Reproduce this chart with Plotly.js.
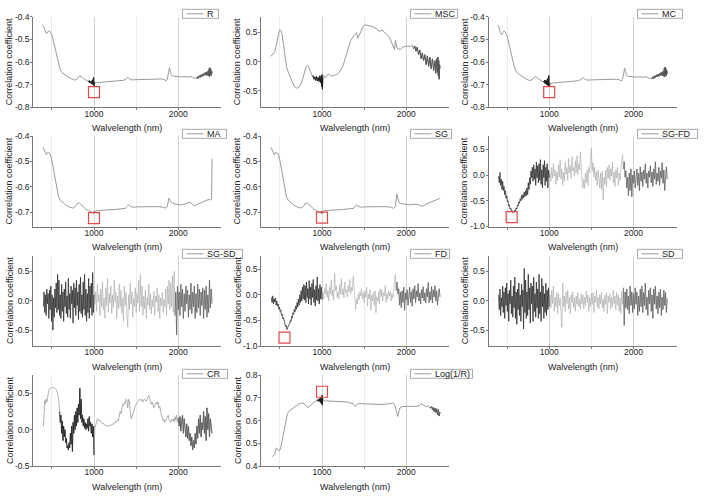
<!DOCTYPE html>
<html><head><meta charset="utf-8">
<script src="https://cdn.plot.ly/plotly-3.0.1.min.js"></script>
<style>html,body{margin:0;padding:0;background:#fff}#chart{width:706px;height:497px}</style>
</head><body><div id="chart"></div>
<script>
// ---------------- DATA ----------------
const PANEL_NAMES = ['R','MSC','MC','MA','SG','SG-FD','SG-SD','FD','SD','CR','Log(1/R)'];
const X_TITLE = 'Walvelength (nm)';
const Y_TITLE = 'Correlation coefficient';
const X_TICKS = [1000, 2000];
const X_MINOR = [500, 1500];
const TICKS_A = [-0.8,-0.7,-0.6,-0.5,-0.4];
const TICKS_B = [-0.7,-0.6,-0.5,-0.4];
const TICKS_SYM = [-0.5,0,0.5];
const TICKS_FD = [-1,-0.5,0,0.5];
const TICKS_CR = [-0.5,0,0.5];
const TICKS_LOG = [0.4,0.5,0.6,0.7,0.8];

const SMOOTH_WL = [390,405,420,435,450,465,480,500,520,540,
560,580,600,620,650,690,730,770,800,830,
850,870,890,910,930,940,945,950,955,960,
965,970,975,980,985,990,995,1000,1003,1006,
1010,1030,1060,1100,1150,1200,1250,1300,1350,1380,
1400,1420,1450,1500,1550,1600,1650,1700,1750,1800,
1830,1855,1870,1885,1895,1905,1915,1930,1960,2000,
2040,2080,2120,2150,2170,2190,2210,2220,2230,2240,
2250,2260,2270,2280,2290,2300,2310,2320,2330,2340,
2350,2360,2365,2370,2375,2380,2385,2390,2395,2400];
const R_VAL = [-0.435,-0.445,-0.462,-0.475,-0.468,-0.462,-0.466,-0.480,-0.510,-0.545,
-0.580,-0.610,-0.635,-0.647,-0.655,-0.665,-0.674,-0.680,-0.676,-0.662,
-0.664,-0.672,-0.677,-0.681,-0.684,-0.688,-0.682,-0.692,-0.684,-0.694,
-0.686,-0.696,-0.683,-0.698,-0.678,-0.700,-0.668,-0.705,-0.675,-0.695,
-0.690,-0.692,-0.690,-0.689,-0.688,-0.687,-0.686,-0.684,-0.681,-0.676,
-0.667,-0.675,-0.679,-0.678,-0.677,-0.676,-0.675,-0.676,-0.674,-0.675,
-0.677,-0.683,-0.675,-0.635,-0.625,-0.640,-0.655,-0.662,-0.664,-0.665,
-0.666,-0.664,-0.667,-0.664,-0.668,-0.672,-0.669,-0.674,-0.664,-0.672,
-0.660,-0.668,-0.656,-0.665,-0.652,-0.662,-0.648,-0.658,-0.644,-0.660,
-0.640,-0.662,-0.630,-0.665,-0.625,-0.655,-0.632,-0.660,-0.640,-0.650];
const MC_VAL = [-0.437,-0.447,-0.470,-0.480,-0.470,-0.463,-0.468,-0.485,-0.515,-0.550,
-0.585,-0.612,-0.636,-0.648,-0.656,-0.667,-0.676,-0.682,-0.677,-0.664,
-0.666,-0.674,-0.679,-0.683,-0.686,-0.690,-0.680,-0.694,-0.682,-0.696,
-0.684,-0.700,-0.678,-0.702,-0.672,-0.706,-0.660,-0.710,-0.668,-0.700,
-0.694,-0.693,-0.691,-0.690,-0.689,-0.688,-0.687,-0.685,-0.682,-0.677,
-0.668,-0.676,-0.680,-0.679,-0.678,-0.677,-0.676,-0.677,-0.675,-0.676,
-0.678,-0.684,-0.676,-0.636,-0.627,-0.642,-0.656,-0.663,-0.665,-0.666,
-0.667,-0.665,-0.668,-0.665,-0.669,-0.673,-0.670,-0.675,-0.665,-0.673,
-0.661,-0.669,-0.657,-0.666,-0.653,-0.663,-0.649,-0.659,-0.645,-0.661,
-0.641,-0.663,-0.628,-0.666,-0.622,-0.656,-0.630,-0.662,-0.638,-0.652];

const MA_WL = [395,415,435,450,465,480,500,520,540,560,
580,600,630,670,710,750,780,800,825,850,
875,900,930,960,985,995,1000,1005,1020,1070,
1150,1230,1300,1370,1395,1410,1430,1460,1520,1600,
1670,1750,1820,1850,1870,1888,1900,1915,1950,2000,
2030,2080,2130,2160,2190,2230,2270,2310,2350,2385,
2395,2400];
const MA_VAL = [-0.444,-0.458,-0.474,-0.464,-0.466,-0.470,-0.495,-0.530,-0.565,-0.605,
-0.640,-0.652,-0.662,-0.672,-0.679,-0.683,-0.676,-0.666,-0.662,-0.670,
-0.680,-0.686,-0.692,-0.697,-0.700,-0.702,-0.697,-0.700,-0.694,-0.692,
-0.690,-0.689,-0.687,-0.684,-0.676,-0.670,-0.676,-0.679,-0.678,-0.677,
-0.676,-0.677,-0.679,-0.683,-0.676,-0.644,-0.652,-0.660,-0.666,-0.668,
-0.670,-0.667,-0.660,-0.665,-0.674,-0.668,-0.663,-0.658,-0.650,-0.650,
-0.648,-0.490];
const SG_VAL = [-0.444,-0.458,-0.474,-0.464,-0.466,-0.470,-0.495,-0.530,-0.565,-0.605,
-0.640,-0.652,-0.662,-0.672,-0.679,-0.683,-0.676,-0.665,-0.662,-0.670,
-0.680,-0.686,-0.692,-0.697,-0.699,-0.703,-0.696,-0.699,-0.693,-0.691,
-0.690,-0.689,-0.687,-0.684,-0.676,-0.670,-0.676,-0.679,-0.678,-0.677,
-0.676,-0.677,-0.679,-0.684,-0.676,-0.628,-0.645,-0.662,-0.666,-0.668,
-0.670,-0.668,-0.668,-0.672,-0.676,-0.668,-0.663,-0.657,-0.650,-0.646,
-0.645,-0.642];

const MSC_WL = [395,410,425,440,455,465,475,485,495,505,
515,525,535,545,555,565,580,600,625,650,
670,690,710,730,750,770,790,810,825,840,
855,870,885,895,905,915,925,935,945,955,
965,975,985,990,995,1000,1005,1010,1020,1040,
1060,1080,1100,1120,1140,1160,1180,1200,1220,1240,
1260,1280,1300,1320,1340,1360,1380,1400,1410,1425,
1440,1455,1470,1490,1510,1530,1550,1575,1600,1625,
1650,1675,1700,1720,1740,1760,1780,1800,1815,1830,
1845,1860,1872,1880,1890,1905,1930,1960,1990,2020,
2050,2070,2085,2100,2115,2130,2145,2160,2175,2190,
2205,2220,2235,2250,2265,2280,2295,2310,2325,2340,
2350,2360,2370,2375,2380,2385,2390,2395,2400];
const MSC_VAL = [0.09,0.13,0.15,0.17,0.28,0.37,0.45,0.51,0.54,0.545,
0.53,0.48,0.39,0.29,0.16,0.05,-0.09,-0.18,-0.27,-0.36,
-0.42,-0.45,-0.45,-0.43,-0.38,-0.30,-0.18,-0.09,-0.06,-0.08,
-0.14,-0.20,-0.25,-0.24,-0.30,-0.26,-0.32,-0.25,-0.33,-0.27,
-0.34,-0.24,-0.36,-0.26,-0.42,-0.22,-0.47,-0.27,-0.24,-0.28,
-0.23,-0.21,-0.24,-0.25,-0.23,-0.23,-0.21,-0.19,-0.15,-0.10,
-0.02,0.09,0.19,0.27,0.36,0.41,0.45,0.48,0.50,0.40,
0.45,0.49,0.57,0.61,0.63,0.62,0.61,0.61,0.60,0.58,
0.56,0.52,0.53,0.54,0.50,0.48,0.45,0.42,0.36,0.30,
0.24,0.21,0.37,0.30,0.23,0.22,0.21,0.25,0.26,0.27,
0.26,0.28,0.22,0.27,0.18,0.25,0.12,0.20,0.05,0.15,
0.02,0.12,-0.05,0.10,-0.08,0.08,-0.12,0.05,-0.15,0.02,
-0.20,0.05,-0.18,0.08,-0.25,0.02,-0.30,-0.05,-0.12];

const LOG_WL = [410,425,440,450,460,470,480,495,510,530,
550,570,590,610,640,680,720,760,790,810,
830,850,870,890,910,930,945,955,965,975,
982,988,994,1000,1004,1008,1015,1040,1100,1200,
1300,1370,1395,1410,1430,1500,1600,1700,1800,1840,
1860,1875,1890,1900,1910,1925,1950,2000,2050,2100,
2150,2180,2200,2230,2260,2280,2300,2310,2320,2330,
2340,2350,2360,2370,2380,2390,2400];
const LOG_VAL = [0.441,0.446,0.452,0.468,0.480,0.474,0.470,0.466,0.480,0.514,
0.555,0.595,0.630,0.642,0.651,0.664,0.672,0.678,0.675,0.665,
0.658,0.662,0.668,0.677,0.684,0.688,0.686,0.694,0.684,0.698,
0.680,0.703,0.675,0.712,0.668,0.700,0.688,0.687,0.686,0.685,
0.682,0.674,0.663,0.668,0.675,0.674,0.672,0.671,0.674,0.678,
0.672,0.650,0.628,0.618,0.638,0.655,0.662,0.664,0.663,0.662,
0.665,0.674,0.668,0.662,0.665,0.655,0.662,0.648,0.658,0.640,
0.655,0.636,0.652,0.625,0.648,0.620,0.638];

const VIS_WL = [400,408,416,424,432,440,448,456,464,472,
480,488,496,504,512,520,528,536,544,552,
560,568,576,584,592,600,608,616,624,632,
640,648,656,664,672,680,688,696,704,712,
720,728,736,744,752,760,768,776,784,792,
800,808,816,824,832,840,848,856,864,872,
880,888,896,904,912,920,928,936,944,952,
960,968,976,984,992,1000];
const SWIR_WL = [1010,1020,1030,1040,1050,1060,1070,1080,1090,1100,
1110,1120,1130,1140,1150,1160,1170,1180,1190,1200,
1210,1220,1230,1240,1250,1260,1270,1280,1290,1300,
1310,1320,1330,1340,1350,1360,1370,1380,1390,1400,
1410,1420,1430,1440,1450,1460,1470,1480,1490,1500,
1510,1520,1530,1540,1550,1560,1570,1580,1590,1600,
1610,1620,1630,1640,1650,1660,1670,1680,1690,1700,
1710,1720,1730,1740,1750,1760,1770,1780,1790,1800,
1810,1820,1830,1840,1850,1860,1870,1880,1890,1900,
1910,1920,1930,1940,1950,1960,1970,1980,1990,2000,
2010,2020,2030,2040,2050,2060,2070,2080,2090,2100,
2110,2120,2130,2140,2150,2160,2170,2180,2190,2200,
2210,2220,2230,2240,2250,2260,2270,2280,2290,2300,
2310,2320,2330,2340,2350,2360,2370,2380,2390,2400];

const SGFD_VIS = [-0.02,-0.15,0.05,-0.20,-0.08,-0.28,-0.12,-0.30,-0.22,-0.38,
-0.30,-0.45,-0.40,-0.52,-0.50,-0.60,-0.58,-0.66,-0.64,-0.70,
-0.69,-0.73,-0.71,-0.72,-0.68,-0.70,-0.64,-0.66,-0.58,-0.60,
-0.52,-0.55,-0.46,-0.50,-0.40,-0.47,-0.38,-0.44,-0.33,-0.42,
-0.30,-0.40,-0.25,-0.38,-0.15,-0.28,-0.05,-0.18,0.08,-0.05,
0.15,-0.12,0.20,-0.08,0.12,-0.20,0.25,-0.05,0.18,-0.15,
0.22,-0.10,0.30,-0.18,0.10,-0.25,0.20,-0.05,0.28,-0.20,
0.15,-0.12,0.22,-0.25,0.10,-0.05];
const SGFD_SWIR = [0.04,-0.12,0.15,-0.06,0.22,-0.02,0.10,-0.18,0.06,-0.10,
0.20,-0.04,0.30,-0.08,0.12,-0.20,0.05,-0.12,0.25,0.02,
0.15,-0.10,0.32,0.04,0.18,-0.06,0.36,0.08,0.15,-0.02,
0.28,0.05,0.38,0.00,0.22,0.10,0.45,0.02,-0.12,-0.25,
-0.08,-0.26,0.04,-0.15,0.10,-0.20,0.15,0.04,0.30,0.52,
0.08,0.24,-0.04,0.15,-0.10,0.06,-0.20,0.10,-0.06,-0.25,
0.04,-0.28,0.08,-0.48,-0.04,-0.18,0.10,-0.24,0.15,-0.06,
0.20,-0.10,0.12,-0.02,0.25,-0.15,0.06,-0.22,0.10,-0.06,
0.15,-0.20,0.04,-0.10,0.10,0.25,0.40,0.12,0.26,-0.04,
0.08,-0.25,-0.04,-0.40,0.04,-0.30,0.12,-0.42,0.00,-0.16,
0.08,-0.25,-0.08,0.12,-0.20,0.04,-0.30,0.16,-0.12,0.06,
-0.22,0.10,-0.08,0.22,-0.16,0.04,-0.25,0.08,-0.04,0.18,
-0.15,0.06,-0.22,0.12,-0.08,0.26,-0.18,0.04,-0.12,0.15,
-0.20,0.08,-0.06,0.24,-0.16,0.10,-0.30,0.04,0.16,-0.08];

const FD_VIS = [-0.05,-0.15,-0.02,-0.18,-0.08,-0.14,-0.06,-0.20,-0.12,-0.22,
-0.18,-0.28,-0.24,-0.32,-0.30,-0.40,-0.38,-0.47,-0.45,-0.54,
-0.55,-0.62,-0.60,-0.68,-0.64,-0.62,-0.58,-0.56,-0.50,-0.52,
-0.42,-0.45,-0.35,-0.38,-0.28,-0.33,-0.22,-0.28,-0.15,-0.24,
-0.08,-0.20,0.00,-0.15,0.08,-0.12,0.15,-0.08,0.20,-0.10,
0.18,-0.15,0.25,-0.05,0.12,-0.18,0.28,-0.08,0.15,-0.20,
0.22,-0.05,0.30,-0.15,0.10,-0.22,0.18,-0.10,0.35,-0.12,
0.12,-0.18,0.20,-0.08,0.15,-0.10];
const FD_SWIR = [0.05,-0.08,0.12,0.02,0.22,-0.05,0.08,-0.12,0.15,0.02,
0.28,-0.02,0.10,-0.10,0.42,0.08,0.18,-0.05,0.06,-0.08,
0.20,0.02,0.32,0.00,0.12,-0.06,0.25,0.05,0.10,-0.04,
0.18,0.06,0.30,0.02,0.15,0.08,0.36,0.12,-0.15,-0.28,
-0.08,-0.18,0.02,-0.10,0.06,-0.02,0.12,-0.08,0.04,-0.15,
0.08,-0.05,0.15,-0.22,0.02,-0.08,0.10,-0.30,0.00,-0.12,
0.05,-0.20,0.08,-0.35,-0.04,-0.12,0.06,-0.18,0.12,-0.04,
0.10,-0.12,0.04,-0.02,0.18,-0.15,0.03,-0.08,0.08,-0.02,
0.06,-0.12,0.02,-0.06,0.10,0.22,0.40,0.08,0.25,0.02,
0.12,-0.20,0.05,-0.25,0.08,-0.15,0.15,-0.30,0.04,-0.10,
0.10,-0.20,0.02,0.15,-0.15,0.06,-0.22,0.12,-0.08,0.18,
-0.15,0.08,-0.04,0.22,-0.12,0.04,-0.18,0.10,-0.06,0.16,
-0.12,0.04,-0.16,0.12,-0.04,0.24,-0.15,0.06,-0.10,0.16,
-0.16,0.10,-0.04,0.18,-0.12,0.08,-0.20,0.04,0.12,-0.04];

const SD_VIS = [0.10,-0.15,0.20,-0.25,0.05,-0.10,0.25,-0.20,0.15,-0.30,
0.22,-0.08,0.30,-0.18,0.12,-0.35,0.18,-0.05,0.35,-0.22,
0.08,-0.28,0.25,-0.12,0.40,-0.30,0.15,-0.40,0.20,-0.15,
0.30,-0.25,0.10,-0.35,0.28,-0.10,0.18,-0.48,0.55,-0.20,
0.35,-0.30,0.15,-0.25,0.45,-0.15,0.22,-0.38,0.30,-0.05,
0.25,-0.35,0.40,-0.18,0.12,-0.28,0.32,-0.12,0.20,-0.30,
0.45,-0.22,0.15,-0.35,0.38,-0.10,0.25,-0.30,0.12,-0.20,
0.30,-0.25,0.18,-0.15,0.22,-0.10];
const SD_SWIR = [0.10,-0.12,0.18,-0.05,0.25,-0.18,0.06,-0.10,0.14,-0.22,
0.12,-0.08,0.04,-0.15,-0.45,0.30,-0.10,0.08,-0.18,0.15,
-0.05,0.18,-0.14,0.06,-0.22,0.10,-0.03,0.15,-0.12,0.05,
-0.18,0.08,-0.06,0.14,-0.10,0.03,-0.15,0.12,-0.05,0.10,
-0.14,0.06,-0.08,0.16,-0.03,0.10,-0.18,0.05,-0.10,0.12,
-0.06,0.14,-0.20,0.08,-0.03,0.18,-0.10,0.06,-0.14,0.10,
-0.05,0.15,-0.12,0.03,-0.18,0.10,-0.06,0.14,-0.22,0.08,
-0.03,0.12,-0.14,0.06,-0.10,0.18,-0.05,0.08,-0.15,0.14,
-0.08,0.10,-0.18,0.05,-0.22,0.16,-0.06,0.22,-0.42,0.15,
-0.12,0.20,-0.15,0.08,-0.22,0.25,-0.08,0.15,-0.20,0.12,
-0.14,0.22,-0.06,0.15,-0.25,0.08,-0.18,0.20,-0.10,0.25,
-0.20,0.14,-0.08,0.30,-0.15,0.06,-0.25,0.18,-0.05,0.22,
-0.18,0.10,-0.30,0.20,-0.06,0.25,-0.14,0.08,-0.22,0.15,
-0.12,0.20,-0.25,0.06,-0.15,0.18,-0.08,0.14,-0.20,0.04];

const SGSD_VIS = [-0.10,0.15,-0.20,0.10,-0.25,0.20,-0.05,0.12,-0.30,0.18,
-0.15,0.25,-0.35,0.10,-0.50,0.05,-0.28,0.20,-0.12,0.30,
-0.20,0.45,-0.15,0.35,-0.25,0.10,-0.30,0.28,-0.18,0.15,
-0.35,0.20,-0.10,0.32,-0.22,0.08,-0.28,0.38,-0.15,0.12,
-0.30,0.25,-0.05,0.18,-0.38,0.30,-0.12,0.22,-0.25,0.35,
-0.08,0.15,-0.32,0.28,-0.18,0.40,-0.22,0.10,-0.28,0.32,
-0.15,0.45,-0.25,0.20,-0.35,0.12,-0.20,0.38,-0.30,0.25,
-0.12,0.30,-0.25,0.48,-0.20,0.10];
const SGSD_SWIR = [-0.06,0.15,-0.18,0.28,-0.02,0.10,-0.25,0.20,-0.10,0.32,
-0.15,0.05,-0.30,0.22,-0.08,0.38,-0.20,0.12,-0.04,0.25,
-0.22,0.10,-0.12,0.35,-0.02,0.15,-0.30,0.08,-0.14,0.28,
-0.10,0.18,-0.22,0.05,-0.35,0.25,-0.08,0.14,-0.25,-0.45,
0.10,-0.15,0.30,-0.06,0.15,-0.28,0.04,-0.10,0.22,-0.20,
0.12,-0.04,0.35,-0.18,0.45,-0.10,0.25,-0.25,0.08,-0.14,
0.18,-0.30,0.06,-0.08,0.28,-0.15,0.12,-0.22,0.02,-0.10,
0.16,-0.25,0.08,-0.02,0.22,-0.18,0.10,-0.30,0.05,-0.08,
0.15,-0.20,0.02,-0.10,0.20,-0.25,0.25,-0.06,0.35,-0.15,
0.30,-0.10,0.42,-0.20,0.50,-0.25,0.15,-0.58,0.25,-0.15,
0.15,-0.25,0.28,-0.10,0.20,-0.30,0.12,-0.18,0.25,-0.05,
0.18,-0.28,0.10,-0.15,0.30,-0.22,0.15,-0.10,0.25,-0.30,
0.12,-0.20,0.28,-0.12,0.20,-0.25,0.15,-0.08,0.22,-0.30,
0.18,-0.15,0.25,-0.28,0.10,-0.20,0.35,-0.12,0.20,-0.05];

const CR_VIS = [0.05,0.30,0.40,0.36,0.42,0.38,0.45,0.50,0.54,0.56,
0.57,0.58,0.58,0.58,0.58,0.58,0.57,0.57,0.56,0.55,
0.53,0.50,0.45,0.38,0.25,0.10,0.20,-0.05,0.12,-0.15,
0.05,-0.10,0.00,-0.18,-0.12,-0.25,-0.22,-0.28,-0.18,-0.25,
-0.05,-0.20,0.05,-0.30,0.10,-0.05,0.20,0.00,0.25,0.05,
0.30,0.10,0.35,0.20,0.57,0.15,0.42,0.10,0.20,0.05,
0.15,0.02,0.10,0.00,0.08,0.02,0.15,-0.02,0.18,0.05,
0.10,-0.05,0.08,-0.10,0.05,-0.35];
const CR_SWIR = [0.02,0.05,0.10,0.15,0.14,0.12,0.13,0.11,0.10,0.08,
0.09,0.07,0.06,0.05,0.06,0.04,0.05,0.06,0.05,0.07,
0.06,0.08,0.07,0.10,0.09,0.12,0.11,0.13,0.12,0.18,
0.25,0.22,0.30,0.35,0.33,0.38,0.36,0.42,0.40,0.30,
0.42,0.38,0.25,0.15,0.18,0.22,0.28,0.30,0.33,0.35,
0.36,0.38,0.40,0.42,0.41,0.40,0.42,0.38,0.40,0.42,
0.41,0.39,0.42,0.44,0.47,0.43,0.40,0.35,0.38,0.32,
0.30,0.33,0.36,0.38,0.35,0.38,0.30,0.32,0.25,0.20,
0.15,0.12,0.14,0.10,0.12,0.15,0.18,0.20,0.14,0.12,
0.10,0.14,0.12,0.15,0.11,0.18,0.13,0.20,0.10,0.16,
0.05,0.18,-0.02,0.12,0.20,-0.05,0.15,0.02,-0.10,0.08,
-0.12,0.05,-0.15,-0.05,-0.22,-0.10,-0.28,-0.15,-0.25,-0.05,
-0.20,0.05,-0.12,0.15,-0.05,0.20,-0.10,0.10,0.00,0.25,
-0.05,0.18,-0.15,0.30,0.00,0.22,-0.10,0.15,0.05,-0.05];

// highlighted (red square) optimum points
const MARK_PANEL = ['R','MC','MA','SG','SG-FD','FD','Log(1/R)'];
const MARK_WL = [1000,1000,1000,1000,555,555,1000];
const MARK_VAL = [-0.733,-0.733,-0.722,-0.720,-0.817,-0.836,0.727];

// ---------------- LAYOUT / STYLE ----------------
const W = 706, H = 497;
const COLX = [33.3, 261.3, 488.5];
const PW = 188;
const ROWY = [[16.7,107.3],[136,226.5],[255.5,346],[375.2,466]];
const LEG_LEFT = [182.5, 410.5, 637.5];
const LEG_TOP = [9.3, 129.3, 249.3, 369.3];
const GRAY = '#9a9a9a', LIGHT = '#a6a6a6', DARK = '#1e1e1e', MID = '#555555';
const NOISY_WL = VIS_WL.concat(SWIR_WL);
const FONT = 'Liberation Sans, Arial, sans-serif';
const TICK_FS = 8.5, TITLE_FS = 9, LEG_FS = 9;

const panels = [
 {col:0,row:0,wl:SMOOTH_WL,val:R_VAL,yr:[-0.8,-0.4],ticks:TICKS_A,lw:36,lwid:1,base:GRAY,dark:[[925,1010,DARK],[2215,2400,MID]]},
 {col:1,row:0,wl:MSC_WL,val:MSC_VAL,yr:[-0.78,0.77],ticks:TICKS_SYM,lw:47,lwid:1,base:GRAY,dark:[[880,1012,DARK],[2075,2400,MID]]},
 {col:2,row:0,wl:SMOOTH_WL,val:MC_VAL,yr:[-0.8,-0.4],ticks:TICKS_A,lw:45,lwid:1,base:GRAY,dark:[[925,1010,DARK],[2215,2400,MID]]},
 {col:0,row:1,wl:MA_WL,val:MA_VAL,yr:[-0.755,-0.4],ticks:TICKS_B,lw:44,lwid:1,base:GRAY,dark:[[985,1005,DARK]]},
 {col:1,row:1,wl:MA_WL,val:SG_VAL,yr:[-0.755,-0.4],ticks:TICKS_B,lw:41,lwid:1,base:GRAY,dark:[[985,1005,DARK]]},
 {col:2,row:1,wl:NOISY_WL,val:SGFD_VIS.concat(SGFD_SWIR),yr:[-1,0.76],ticks:TICKS_FD,lw:60,lwid:0.6,base:LIGHT,dark:[[400,1000,DARK],[1880,2400,MID]]},
 {col:0,row:2,wl:NOISY_WL,val:SGSD_VIS.concat(SGSD_SWIR),yr:[-0.77,0.77],ticks:TICKS_SYM,lw:60,lwid:0.6,base:LIGHT,dark:[[400,1000,DARK],[1960,2400,MID]]},
 {col:1,row:2,wl:NOISY_WL,val:FD_VIS.concat(FD_SWIR),yr:[-1,0.77],ticks:TICKS_FD,lw:39,lwid:0.6,base:LIGHT,dark:[[400,1000,DARK],[1880,2400,MID]]},
 {col:2,row:2,wl:NOISY_WL,val:SD_VIS.concat(SD_SWIR),yr:[-0.77,0.77],ticks:TICKS_SYM,lw:45,lwid:0.6,base:LIGHT,dark:[[400,1000,DARK],[1880,2400,MID]]},
 {col:0,row:3,wl:NOISY_WL,val:CR_VIS.concat(CR_SWIR),yr:[-0.5,0.75],ticks:TICKS_CR,lw:45,lwid:0.8,base:GRAY,dark:[[590,1000,DARK],[2000,2400,MID]]},
 {col:1,row:3,wl:LOG_WL,val:LOG_VAL,yr:[0.4,0.8],ticks:TICKS_LOG,lw:62,lwid:1,base:GRAY,dark:[[940,1010,DARK],[2275,2400,MID]]}
];

const traces = [];
const layout = {
  width: W, height: H, margin: {l:0,r:0,t:0,b:0},
  paper_bgcolor: '#fff', plot_bgcolor: '#fff', showlegend: false,
  font: {family: FONT, size: 9, color: '#222'},
  shapes: [], annotations: []
};

panels.forEach((p, i) => {
  const k = i + 1;
  const xa = 'x' + k, ya = 'y' + k;
  const name = PANEL_NAMES[i];
  traces.push({x: p.wl, y: p.val, xaxis: xa, yaxis: ya, type: 'scatter', mode: 'lines',
    line: {color: p.base, width: p.lwid}, hoverinfo: 'skip'});
  p.dark.forEach(seg => {
    const xs = [], ys = [];
    p.wl.forEach((w, j) => { if (w >= seg[0] && w <= seg[1]) { xs.push(w); ys.push(p.val[j]); } });
    traces.push({x: xs, y: ys, xaxis: xa, yaxis: ya, type: 'scatter', mode: 'lines',
      line: {color: seg[2], width: p.lwid}, hoverinfo: 'skip'});
  });
  const mi = MARK_PANEL.indexOf(name);
  if (mi >= 0) {
    traces.push({x: [MARK_WL[mi]], y: [MARK_VAL[mi]], xaxis: xa, yaxis: ya, type: 'scatter', mode: 'markers',
      marker: {symbol: 'square-open', size: 11, color: '#e44848', line: {width: 1.2, color: '#e44848'}}, hoverinfo: 'skip'});
  }
  const left = COLX[p.col], top = ROWY[p.row][0], bot = ROWY[p.row][1];
  layout['xaxis' + k] = {
    domain: [left / W, (left + PW) / W], range: [280, 2510], anchor: ya,
    tickmode: 'array', tickvals: X_TICKS, ticktext: X_TICKS.map(String),
    ticks: 'outside', ticklen: 2, tickcolor: '#777', tickwidth: 1, ticklabelstandoff: -4,
    showline: true, linecolor: '#777', linewidth: 1,
    showgrid: true, gridcolor: '#d4d4d4', gridwidth: 1, zeroline: false,
    minor: {tickmode: 'array', tickvals: X_MINOR, ticks: 'outside', ticklen: 2, tickcolor: '#888', showgrid: true, gridcolor: '#ececec', gridwidth: 1},
    tickfont: {size: TICK_FS, color: '#222', family: FONT}, fixedrange: true
  };
  layout['yaxis' + k] = {
    domain: [1 - bot / H, 1 - top / H], range: p.yr, anchor: xa,
    tickmode: 'array', tickvals: p.ticks, ticktext: p.ticks.map(v => v.toFixed(1)),
    ticks: 'outside', ticklen: 2, tickcolor: '#777', tickwidth: 1, ticklabelstandoff: -1,
    showline: true, linecolor: '#777', linewidth: 1,
    showgrid: false, zeroline: false,
    tickfont: {size: TICK_FS, color: '#222', family: FONT}, fixedrange: true
  };
  layout.annotations.push({xref: 'paper', yref: 'paper', x: (left + PW / 2) / W, y: 1 - (bot + 20.5) / H,
    xanchor: 'center', yanchor: 'middle', showarrow: false, text: X_TITLE, font: {size: TITLE_FS, color: '#222', family: FONT}});
  layout.annotations.push({xref: 'paper', yref: 'paper', x: (left - 24) / W, y: 1 - ((top + bot) / 2) / H,
    xanchor: 'center', yanchor: 'middle', showarrow: false, textangle: -90, text: Y_TITLE, font: {size: TITLE_FS, color: '#222', family: FONT}});
  const lx = LEG_LEFT[p.col], ly = LEG_TOP[p.row], lh = 9;
  layout.shapes.push({type: 'rect', xref: 'paper', yref: 'paper', layer: 'above',
    x0: lx / W, x1: (lx + p.lw) / W, y0: 1 - (ly + lh) / H, y1: 1 - ly / H,
    line: {color: '#a8a8a8', width: 1}, fillcolor: '#fff'});
  layout.shapes.push({type: 'line', xref: 'paper', yref: 'paper', layer: 'above',
    x0: (lx + 4) / W, x1: (lx + 21) / W, y0: 1 - (ly + lh / 2) / H, y1: 1 - (ly + lh / 2) / H,
    line: {color: '#999', width: 1}});
  layout.annotations.push({xref: 'paper', yref: 'paper', x: (lx + 23) / W, y: 1 - (ly + lh / 2) / H,
    xanchor: 'left', yanchor: 'middle', showarrow: false, text: name, borderpad: 0,
    font: {size: LEG_FS, color: '#222', family: FONT}});
});

Plotly.newPlot('chart', traces, layout, {staticPlot: true, displayModeBar: false});
</script>
</body></html>
